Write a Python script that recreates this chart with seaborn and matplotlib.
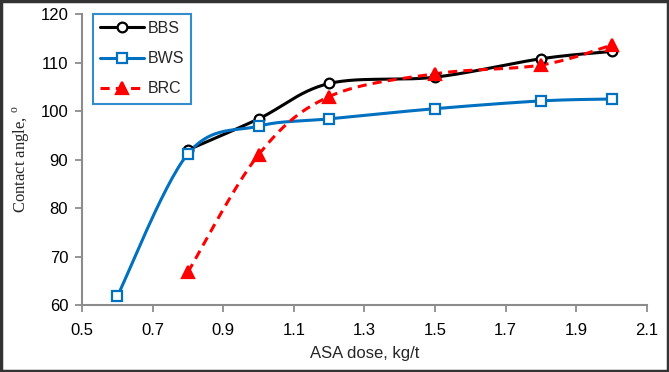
import numpy as np
import matplotlib
matplotlib.use("Agg")
import matplotlib.pyplot as plt
from matplotlib.lines import Line2D
from matplotlib.patches import Rectangle
import seaborn as sns

# Data
bbs_x = [0.8, 1.0, 1.2, 1.5, 1.8, 2.0]
bbs_y = [92.0, 98.4, 105.7, 107.0, 110.8, 112.3]
bws_x = [0.6, 0.8, 1.0, 1.2, 1.5, 1.8, 2.0]
bws_y = [61.8, 91.2, 96.9, 98.4, 100.5, 102.1, 102.5]
brc_x = [0.8, 1.0, 1.2, 1.5, 1.8, 2.0]
brc_y = [66.8, 91.0, 103.0, 107.7, 109.5, 113.6]
x_ticks = [0.5, 0.7, 0.9, 1.1, 1.3, 1.5, 1.7, 1.9, 2.1]
y_ticks = [60, 70, 80, 90, 100, 110, 120]

sns.set_theme(style="white")
plt.rcParams['font.family'] = ['Liberation Sans', 'DejaVu Sans']
plt.rcParams['mathtext.fontset'] = 'custom'
plt.rcParams['mathtext.rm'] = 'Liberation Serif'


def smooth(xs, ys, n=30):
    # Excel-style smoothed line (Bezier with Catmull-Rom control points)
    P = np.column_stack([xs, ys]).astype(float)
    out = []
    for i in range(len(P) - 1):
        p0 = P[i - 1] if i > 0 else P[i]
        p1 = P[i]
        p2 = P[i + 1]
        p3 = P[i + 2] if i + 2 < len(P) else P[i + 1]
        c1 = p1 + (p2 - p0) / 6.0
        c2 = p2 - (p3 - p1) / 6.0
        t = np.linspace(0, 1, n)[:, None]
        seg = ((1 - t) ** 3) * p1 + 3 * ((1 - t) ** 2) * t * c1 + 3 * (1 - t) * t ** 2 * c2 + t ** 3 * p2
        out.append(seg if i == 0 else seg[1:])
    s = np.vstack(out)
    return s[:, 0], s[:, 1]


fig = plt.figure(figsize=(6.69, 3.72), dpi=100)
ax = fig.add_axes([0.1226, 0.180, 0.8444, 0.782])

series = [
    ("BBS", bbs_x, bbs_y, "black", "-", "o", "none"),
    ("BWS", bws_x, bws_y, "#0070C0", "-", "s", "none"),
    ("BRC", brc_x, brc_y, "#FF0000", (0, (3, 2)), "^", "#FF0000"),
]
handles = []
for name, xs, ys, col, ls, mk, mfc in series:
    sx, sy = smooth(xs, ys)
    sns.lineplot(x=sx, y=sy, ax=ax, color=col, linewidth=2.2, sort=False,
                 estimator=None)
    ax.lines[-1].set_linestyle(ls)
    ax.plot(xs, ys, linestyle="none", marker=mk, markersize=7 if mk != "^" else 8,
            markerfacecolor="white" if mfc == "none" else mfc,
            markeredgecolor=col, markeredgewidth=1.6, zorder=5)
    handles.append(Line2D([], [], color=col, linestyle=ls, linewidth=2.2, marker=mk,
                          markersize=7 if mk != "^" else 8,
                          markerfacecolor="white" if mfc == "none" else mfc,
                          markeredgecolor=col, markeredgewidth=1.6, label=name))

ax.set_xlim(0.5, 2.1)
ax.set_ylim(60, 120)
ax.set_xticks(x_ticks)
ax.set_yticks(y_ticks)
ax.set_xticklabels([f"{v:.1f}" for v in x_ticks])
ax.set_yticklabels([str(v) for v in y_ticks])
for s in ["top", "right"]:
    ax.spines[s].set_visible(False)
for s in ["left", "bottom"]:
    ax.spines[s].set_color("#8c8c8c")
    ax.spines[s].set_linewidth(1.5)
ax.tick_params(axis="both", direction="out", length=5, width=1.3, color="#8c8c8c",
               labelsize=12, labelcolor="black", bottom=True, left=True)
ax.tick_params(axis="x", pad=8)
ax.tick_params(axis="y", pad=5)
ax.grid(False)

ax.set_xlabel("ASA dose, kg/t", fontsize=12, labelpad=6)
ax.set_ylabel(r"Contact angle, $^{\mathrm{o}}$", fontsize=12,
              family=["Liberation Serif", "DejaVu Serif"], labelpad=6)

leg = ax.legend(handles=handles, loc="upper left", bbox_to_anchor=(0.013, 1.012),
                frameon=True, fancybox=False, handlelength=2.8, handletextpad=0.2,
                borderpad=0.45, labelspacing=0.95, fontsize=11.5, borderaxespad=0.2)
leg.get_frame().set_edgecolor("#0070C0")
leg.get_frame().set_linewidth(1.5)

fig.patches.append(Rectangle((0.002, 0.003), 0.996, 0.994, transform=fig.transFigure,
                             fill=False, edgecolor="#333333", linewidth=2.5))

fig.savefig("out.png", dpi=100)
